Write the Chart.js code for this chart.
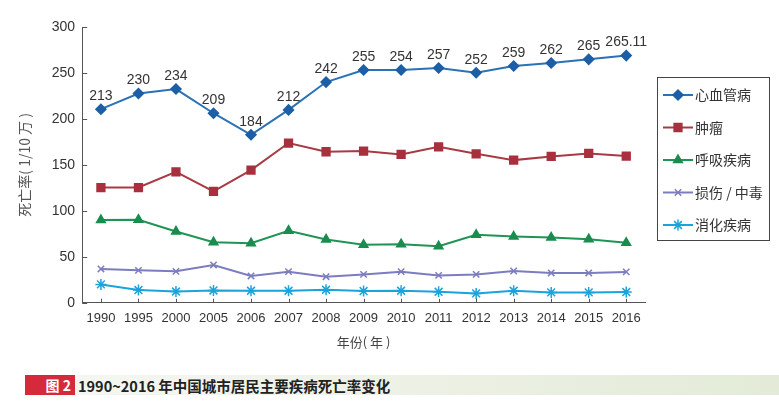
<!DOCTYPE html>
<html>
<head>
<meta charset="utf-8">
<script src="https://cdn.jsdelivr.net/npm/chart.js@4"></script>
<style>
  body { margin: 0; background: #fff; font-family: "Liberation Sans", "Noto Sans CJK SC", sans-serif; }
  #wrap { position: absolute; left: 0; top: 0; width: 779px; height: 362px; }
  #caption { position: absolute; left: 25px; top: 375px; width: 754px; height: 20px;
    background: linear-gradient(to right, #f6f7f3, #e3ebd8); }
  #caption .tag { position: absolute; left: 0; top: 0; width: 50px; height: 20px; background: #d42a3c;
    color: #fff; font: bold 14px "Noto Sans CJK SC", sans-serif; line-height: 20px; text-align: right; }
  #caption .tag span { padding-right: 4px; }
  #caption .txt { position: absolute; left: 53px; top: 0; line-height: 20px; color: #222;
    font: bold 14.5px "Noto Sans CJK SC", "Liberation Sans", sans-serif; }
</style>
</head>
<body>
<div id="wrap"><canvas id="chart" width="779" height="362"></canvas></div>
<div id="caption"><div class="tag"><span>图 2</span></div><div class="txt">1990~2016 年中国城市居民主要疾病死亡率变化</div></div>
<script>
// Kategorije (godine)
const godine = ['1990','1995','2000','2005','2006','2007','2008','2009','2010','2011','2012','2013','2014','2015','2016'];

// Vrijednosti serija (očitano sa slike)
const srceVrijednosti = [210.6, 227.7, 232.5, 206.2, 182.8, 209.8, 240.1, 253.2, 253.2, 255.4, 250.3, 257.6, 260.9, 264.8, 268.9];
const srceOznake = ['213','230','234','209','184','212','242','255','254','257','252','259','262','265','265.11'];
const tumorVrijednosti = [125.4, 125.4, 142.4, 121.3, 144.3, 173.8, 164.3, 165.0, 161.4, 169.7, 162.1, 155.2, 159.2, 162.5, 159.6];
const disanjeVrijednosti = [90.0, 90.4, 77.6, 65.9, 64.8, 78.4, 68.9, 63.1, 63.7, 61.5, 74.0, 72.1, 71.0, 69.2, 65.2];
const ozljedeVrijednosti = [36.8, 35.3, 34.2, 41.2, 29.2, 33.9, 28.4, 30.9, 33.9, 29.8, 30.9, 34.6, 32.5, 32.5, 33.6];
const probavaVrijednosti = [20.0, 13.9, 12.3, 13.4, 13.1, 13.1, 14.2, 12.8, 13.1, 12.0, 10.2, 13.1, 11.3, 11.3, 11.7];

const nazivi = ['心血管病', '肿瘤', '呼吸疾病', '损伤 / 中毒', '消化疾病'];
const yOznake = [0, 50, 100, 150, 200, 250, 300];

// Oznake iznad plave linije
const oznakePlugin = {
    id: 'oznake',
    afterDatasetsDraw(chart) {
        const ctx = chart.ctx;
        const meta = chart.getDatasetMeta(0);
        ctx.save();
        ctx.fillStyle = '#333';
        ctx.font = '14px "Liberation Sans", sans-serif';
        ctx.textAlign = 'center';
        ctx.textBaseline = 'middle';
        meta.data.forEach((p, i) => {
            ctx.fillText(srceOznake[i], p.x, p.y - 13);
        });
        ctx.restore();
    }
};

// Crtice prema unutra na osima
const crticePlugin = {
    id: 'crtice',
    afterDraw(chart) {
        const ctx = chart.ctx;
        const a = chart.chartArea;
        const xs = chart.scales.x, ys = chart.scales.y;
        ctx.save();
        ctx.strokeStyle = '#555';
        ctx.lineWidth = 1;
        ctx.beginPath();
        xs.ticks.forEach((t, i) => {
            const x = Math.round(xs.getPixelForTick(i)) + 0.5;
            ctx.moveTo(x, a.bottom);
            ctx.lineTo(x, a.bottom - 4);
        });
        ys.ticks.forEach((t, i) => {
            const y = Math.round(ys.getPixelForTick(i)) + 0.5;
            ctx.moveTo(a.left, y);
            ctx.lineTo(a.left + 5, y);
        });
        ctx.stroke();
        ctx.restore();
    }
};

// Legenda u okviru desno
const legendaPlugin = {
    id: 'legenda',
    afterDraw(chart) {
        const ctx = chart.ctx;
        const x0 = 657, y0 = 77, w = 112, h = 163;
        ctx.save();
        ctx.strokeStyle = '#444';
        ctx.lineWidth = 1;
        ctx.strokeRect(x0 + 0.5, y0 + 0.5, w, h);
        ctx.font = '14px "Noto Sans CJK SC", sans-serif';
        ctx.textBaseline = 'middle';
        chart.data.datasets.forEach((ds, i) => {
            const y = 95 + i * 32.5;
            ctx.strokeStyle = ds.borderColor;
            ctx.lineWidth = 2;
            ctx.beginPath();
            ctx.moveTo(663, y);
            ctx.lineTo(693, y);
            ctx.stroke();
            ctx.fillStyle = ds.pointBackgroundColor;
            ctx.strokeStyle = ds.pointBorderColor;
            ctx.lineWidth = ds.pointBorderWidth;
            Chart.helpers.drawPoint(ctx, { pointStyle: ds.pointStyle, radius: ds.pointRadius, rotation: 0, borderWidth: ds.pointBorderWidth }, 678, y);
            ctx.fillStyle = '#333';
            ctx.fillText(ds.label, 695, y);
        });
        ctx.restore();
    }
};

function serija(label, data, boja, tocka, stil, r) {
    return {
        label: label,
        data: data,
        borderColor: boja,
        backgroundColor: boja,
        borderWidth: 2,
        pointStyle: stil,
        pointRadius: r,
        pointBackgroundColor: tocka,
        pointBorderColor: tocka,
        pointBorderWidth: 1.5,
        tension: 0,
        fill: false
    };
}

const ctx = document.getElementById('chart').getContext('2d');
new Chart(ctx, {
    type: 'line',
    data: {
        labels: godine,
        datasets: [
            serija(nazivi[0], srceVrijednosti, '#2a72b5', '#1c5fa6', 'rectRot', 5),
            serija(nazivi[1], tumorVrijednosti, '#a83a44', '#a8303e', 'rect', 5.5),
            serija(nazivi[2], disanjeVrijednosti, '#1f9455', '#1a8c4e', 'triangle', 5),
            serija(nazivi[3], ozljedeVrijednosti, '#7c7cc0', '#7c7cc0', 'crossRot', 4.5),
            serija(nazivi[4], probavaVrijednosti, '#1ba3db', '#1ba3db', 'star', 5.5)
        ]
    },
    options: {
        responsive: false,
        animation: false,
        layout: { padding: { top: 27, right: 134, bottom: 12, left: 16 } },
        plugins: {
            legend: { display: false },
            tooltip: { enabled: false }
        },
        scales: {
            x: {
                offset: true,
                grid: { display: false, drawTicks: false },
                border: { display: true, color: '#555', width: 1 },
                ticks: { color: '#333', padding: 8, maxRotation: 0, autoSkip: false,
                    font: { family: '"Liberation Sans", sans-serif', size: 13 } },
                title: { display: true, text: '年份( 年 )', color: '#444', padding: { top: 0, bottom: 0 },
                    font: { family: '"Noto Sans CJK SC", sans-serif', size: 13 } }
            },
            y: {
                min: 0,
                max: 300,
                afterBuildTicks(axis) { axis.ticks = yOznake.map(v => ({ value: v })); },
                grid: { display: false, drawTicks: false },
                border: { display: true, color: '#555', width: 1 },
                ticks: { color: '#333', padding: 7,
                    font: { family: '"Liberation Sans", sans-serif', size: 14 } },
                title: { display: true, text: '死亡率( 1/10 万 )', color: '#555', padding: { top: 0, bottom: 12 },
                    font: { family: '"Noto Sans CJK SC", sans-serif', size: 14 } }
            }
        }
    },
    plugins: [oznakePlugin, crticePlugin, legendaPlugin]
});
</script>
</body>
</html>
